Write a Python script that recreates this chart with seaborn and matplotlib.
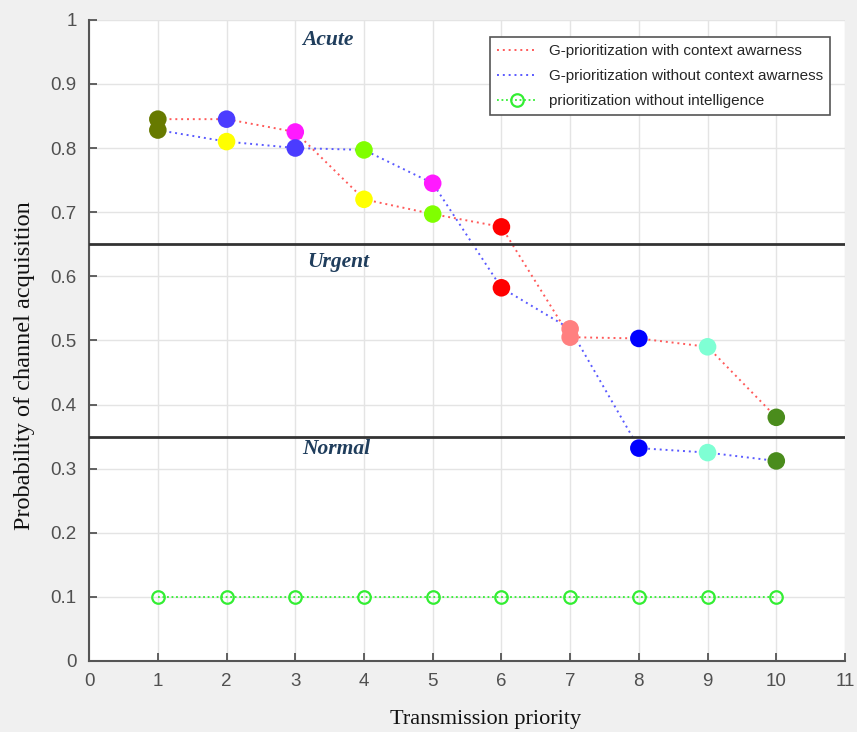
import numpy as np
import pandas as pd
import matplotlib.pyplot as plt
import seaborn as sns

# data
priority = [1, 2, 3, 4, 5, 6, 7, 8, 9, 10]
with_context = [0.845, 0.845, 0.825, 0.72, 0.697, 0.677, 0.505, 0.503, 0.49, 0.38]
without_context = [0.828, 0.81, 0.80, 0.797, 0.745, 0.582, 0.518, 0.332, 0.325, 0.312]
no_intelligence = [0.1] * 10

with_colors = ["#677a00", "#4b3cff", "#ff1aff", "#ffff00", "#80ff00",
               "#ff0000", "#ff8080", "#0000ff", "#7fffd4", "#4a8c1c"]
without_colors = ["#677a00", "#ffff00", "#4b3cff", "#80ff00", "#ff1aff",
                  "#ff0000", "#ff8080", "#0000ff", "#7fffd4", "#4a8c1c"]

labels = ["G-prioritization with context awarness",
          "G-prioritization without context awarness",
          "prioritization without intelligence"]
zones = ["Acute", "Urgent", "Normal"]
zone_x = [3.47, 3.62, 3.6]
zone_y = [0.968, 0.623, 0.331]
boundaries = [0.65, 0.35]

sns.set_style("white")
plt.rcParams["font.family"] = ["Liberation Sans", "DejaVu Sans"]

df = pd.DataFrame({
    "priority": priority,
    "with": with_context,
    "without": without_context,
    "none": no_intelligence,
})

fig = plt.figure(figsize=(8.57, 7.32), dpi=100, facecolor="#f0f0f0")
ax = fig.add_axes([0.104, 0.097, 0.882, 0.876])
ax.set_facecolor("white")

sns.lineplot(data=df, x="priority", y="with", ax=ax, color="#ff5a5a",
             linestyle=(0, (1, 2)), linewidth=1.4, label=labels[0])
sns.lineplot(data=df, x="priority", y="without", ax=ax, color="#5a5aff",
             linestyle=(0, (1, 2)), linewidth=1.4, label=labels[1])
sns.lineplot(data=df, x="priority", y="none", ax=ax, color="#33ee33",
             linestyle=(0, (1, 1.5)), linewidth=1.3, marker="o",
             markersize=9, markerfacecolor="none", markeredgecolor="#33ee33",
             markeredgewidth=1.6, label=labels[2])

sns.scatterplot(x=priority, y=with_context, hue=[str(p) for p in priority],
                palette=with_colors, s=160, linewidth=0, legend=False,
                ax=ax, zorder=4)
sns.scatterplot(x=priority, y=without_context, hue=[str(p) for p in priority],
                palette=without_colors, s=160, linewidth=0, legend=False,
                ax=ax, zorder=4)

for b in boundaries:
    ax.axhline(b, color="#333333", linewidth=2, zorder=3)

for name, zx, zy in zip(zones, zone_x, zone_y):
    ax.text(zx, zy, name, family=["Liberation Serif", "DejaVu Serif"],
            fontsize=15.5, fontweight="bold", style="italic",
            color="#1f3d5c", ha="center", va="center")

ax.set_xlim(0, 11)
ax.set_ylim(0, 1)
ax.set_xticks(range(0, 12))
ax.set_yticks(np.round(np.arange(0, 1.01, 0.1), 1))
ax.set_yticklabels(["0", "0.1", "0.2", "0.3", "0.4", "0.5", "0.6", "0.7",
                    "0.8", "0.9", "1"])
ax.grid(True, color="#e4e4e4", linewidth=1)
ax.set_axisbelow(True)
for side in ["top", "right"]:
    ax.spines[side].set_visible(False)
for side in ["left", "bottom"]:
    ax.spines[side].set_color("#555555")
    ax.spines[side].set_linewidth(1.5)
ax.tick_params(bottom=True, left=True, direction="in", length=6, width=1.3,
               colors="#555555", labelsize=13.5, labelcolor="#505050", pad=9)

ax.set_xlabel("Transmission priority", family=["Liberation Serif"],
              fontsize=16, color="#111111")
ax.set_ylabel("Probability of channel acquisition",
              family=["Liberation Serif"], fontsize=17.5, color="#111111")
ax.xaxis.set_label_coords(0.524, -0.077)
ax.yaxis.set_label_coords(-0.072, 0.46)

leg = ax.legend(loc="upper right", bbox_to_anchor=(0.99, 0.985),
                fontsize=11, frameon=True, fancybox=False, framealpha=1,
                edgecolor="#555555", handlelength=2.6, borderpad=0.45,
                labelspacing=0.72)
leg.get_frame().set_linewidth(1.2)

fig.savefig("out.png", dpi=100, facecolor=fig.get_facecolor())
